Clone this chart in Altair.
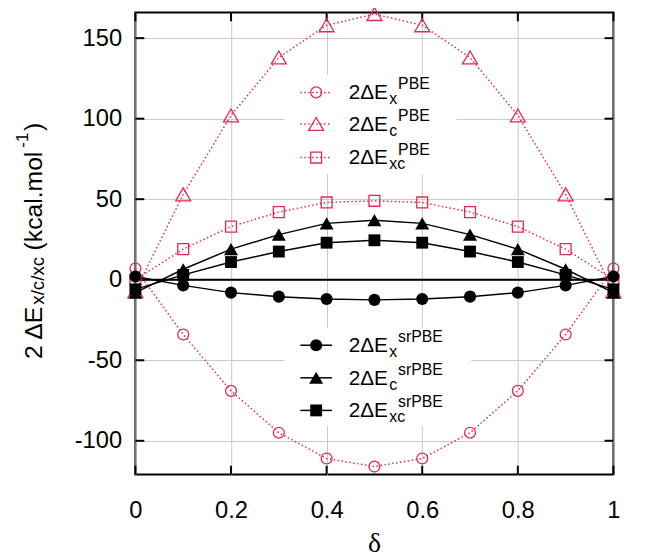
import altair as alt
import pandas as pd

# ---------------- data ----------------
delta = [0.0, 0.1, 0.2, 0.3, 0.4, 0.5, 0.6, 0.7, 0.8, 0.9, 1.0]
ex_pbe = [7, -34, -69, -95, -111, -116, -111, -95, -69, -34, 7]
ec_pbe = [-7, 53, 102, 138, 158, 165, 158, 138, 102, 53, -7]
exc_pbe = [0, 19, 33, 42, 48, 49, 48, 42, 33, 19, 0]
ex_sr = [2, -3.5, -8, -10.5, -12, -12.5, -12, -10.5, -8, -3.5, 2]
ec_sr = [-8, 6.5, 19, 28, 35, 37, 35, 28, 19, 6.5, -8]
exc_sr = [-6, 3, 11, 17.5, 23, 24.5, 23, 17.5, 11, 3, -6]

x_ticks = [0, 0.2, 0.4, 0.6, 0.8, 1.0]
y_ticks = [-100, -50, 0, 50, 100, 150]
sub_labels = ["x", "c", "xc"]
pbe_sup = "PBE"
sr_sup = "srPBE"

RED = "#e3294f"
FONT = "Liberation Sans"
W, H = 484, 468

xs = alt.Scale(domain=[0, 1], nice=False, zero=False)
ys = alt.Scale(domain=[-121, 166], nice=False, zero=False)

rows = []
for name, vals in [("ex_pbe", ex_pbe), ("ec_pbe", ec_pbe), ("exc_pbe", exc_pbe),
                   ("ex_sr", ex_sr), ("ec_sr", ec_sr), ("exc_sr", exc_sr)]:
    for d, v in zip(delta, vals):
        rows.append({"delta": d, "value": v, "series": name})
df = pd.DataFrame(rows)
one = pd.DataFrame({"k": [0]})

X = alt.X("delta:Q", scale=xs,
          axis=alt.Axis(values=x_ticks, labelExpr="toString(datum.value)", title=None,
                        ticks=False, domain=False,
                        grid=True, gridColor="#c8c8c8", gridWidth=1,
                        labelFont=FONT, labelFontSize=24, labelColor="black",
                        labelPadding=24, labelFlush=False, labelOverlap=False, labelBound=False))
Y = alt.Y("value:Q", scale=ys,
          axis=alt.Axis(values=y_ticks, labelExpr="toString(datum.value)", title=None,
                        ticks=False, domain=False,
                        grid=True, gridColor="#c8c8c8", gridWidth=1,
                        labelFont=FONT, labelFontSize=24, labelColor="black",
                        labelPadding=14, labelFlush=False, labelOverlap=False, labelBound=False))

base = alt.Chart(df)
layers = []

# grid carrier (axes)
layers.append(base.mark_point(opacity=0).encode(x=X, y=Y))

# white legend boxes (cover grid)
for (x1, x2, y1, y2) in [(151, 325, 63, 164), (151, 340, 319, 419)]:
    layers.append(alt.Chart(one).mark_rect(fill="white").encode(
        x=alt.value(x1), x2=alt.value(x2), y=alt.value(y1), y2=alt.value(y2)))

# inward ticks
xt = pd.DataFrame({"t": x_ticks})
yt = pd.DataFrame({"t": y_ticks})
layers.append(alt.Chart(xt).mark_rule(color="black", strokeWidth=2).encode(
    x=alt.X("t:Q", scale=xs), y=alt.value(H - 9), y2=alt.value(H)))
layers.append(alt.Chart(xt).mark_rule(color="black", strokeWidth=2).encode(
    x=alt.X("t:Q", scale=xs), y=alt.value(0), y2=alt.value(9)))
layers.append(alt.Chart(yt).mark_rule(color="black", strokeWidth=2).encode(
    y=alt.Y("t:Q", scale=ys), x=alt.value(0), x2=alt.value(9)))
layers.append(alt.Chart(yt).mark_rule(color="black", strokeWidth=2).encode(
    y=alt.Y("t:Q", scale=ys), x=alt.value(W - 9), x2=alt.value(W)))

# zero line
layers.append(alt.Chart(one).mark_rule(color="black", strokeWidth=2).encode(
    y=alt.Y(datum=0, scale=ys), x=alt.value(0), x2=alt.value(W)))

# series lines
red_series = ["ex_pbe", "ec_pbe", "exc_pbe"]
blk_series = ["ex_sr", "ec_sr", "exc_sr"]
shapes = ["circle", "triangle-up", "square"]
red_sizes = [121, 230, 121]
blk_sizes = [150, 200, 144]

for s in red_series:
    layers.append(base.transform_filter(alt.datum.series == s).mark_line(
        color=RED, strokeWidth=1.5, strokeDash=[1.5, 2.5]).encode(
        x=alt.X("delta:Q", scale=xs), y=alt.Y("value:Q", scale=ys)))
for s in blk_series:
    layers.append(base.transform_filter(alt.datum.series == s).mark_line(
        color="black", strokeWidth=1.5).encode(
        x=alt.X("delta:Q", scale=xs), y=alt.Y("value:Q", scale=ys)))
for s, sh, sz in zip(red_series, shapes, red_sizes):
    layers.append(base.transform_filter(alt.datum.series == s).mark_point(
        shape=sh, size=sz, filled=False, stroke=RED, strokeWidth=1.3, opacity=1).encode(
        x=alt.X("delta:Q", scale=xs), y=alt.Y("value:Q", scale=ys)))
for s, sh, sz in zip(blk_series, shapes, blk_sizes):
    layers.append(base.transform_filter(alt.datum.series == s).mark_point(
        shape=sh, size=sz, filled=True, fill="black", opacity=1).encode(
        x=alt.X("delta:Q", scale=xs), y=alt.Y("value:Q", scale=ys)))

# legends
def legend_entry(row_y, sub, sup, color, dashed, shape, size, filled):
    out = []
    rule_kw = dict(color=color, strokeWidth=1.5)
    if dashed:
        rule_kw["strokeDash"] = [1.5, 2.5]
    out.append(alt.Chart(one).mark_rule(**rule_kw).encode(
        x=alt.value(167), x2=alt.value(199), y=alt.value(row_y)))
    if filled:
        out.append(alt.Chart(one).mark_point(shape=shape, size=size, filled=True,
                                             fill="black", opacity=1).encode(
            x=alt.value(183), y=alt.value(row_y)))
    else:
        out.append(alt.Chart(one).mark_point(shape=shape, size=size, filled=False,
                                             stroke=color, strokeWidth=1.3, opacity=1).encode(
            x=alt.value(183), y=alt.value(row_y)))
    out.append(alt.Chart(one).mark_text(text="2ΔE", font=FONT, fontSize=21, align="left",
                                        baseline="alphabetic", color="black").encode(
        x=alt.value(216), y=alt.value(row_y + 7)))
    out.append(alt.Chart(one).mark_text(text=sub, font=FONT, fontSize=16, align="left",
                                        baseline="alphabetic", color="black").encode(
        x=alt.value(257), y=alt.value(row_y + 12)))
    out.append(alt.Chart(one).mark_text(text=sup, font=FONT, fontSize=16, align="left",
                                        baseline="alphabetic", color="black").encode(
        x=alt.value(266), y=alt.value(row_y - 3)))
    return out

for ry, sub, sh, sz in zip([81, 113, 147], sub_labels, shapes, red_sizes):
    layers += legend_entry(ry, sub, pbe_sup, RED, True, sh, sz, False)
for ry, sub, sh, sz in zip([337, 370, 403], sub_labels, shapes, blk_sizes):
    layers += legend_entry(ry, sub, sr_sup, "black", False, sh, sz, True)

# y-axis title pieces (rotated)
ytitle = [("2 ΔE", -95, 351, 25), ("x/c/xc", -93, 296, 19), ("(kcal.mol", -95, 241, 25),
          ("-1", -109, 137, 17), (")", -95, 120, 25)]
for txt, tx, ty, fs in ytitle:
    layers.append(alt.Chart(one).mark_text(text=txt, font=FONT, fontSize=fs, angle=270,
                                           align="left", baseline="alphabetic",
                                           color="black").encode(
        x=alt.value(tx), y=alt.value(ty)))

# x-axis title
layers.append(alt.Chart(one).mark_text(text="δ", font="Liberation Serif", fontSize=28,
                                       align="center", baseline="alphabetic",
                                       color="black").encode(
    x=alt.value(W / 2), y=alt.value(546)))

chart = alt.layer(*layers).properties(
    width=W, height=H,
    autosize=alt.AutoSizeParams(type="none"),
    padding={"left": 129, "top": 1, "right": 35, "bottom": 82},
).configure_view(stroke="black", strokeWidth=2)

chart.save("out.html", embed_options={"renderer": "svg", "actions": False})
